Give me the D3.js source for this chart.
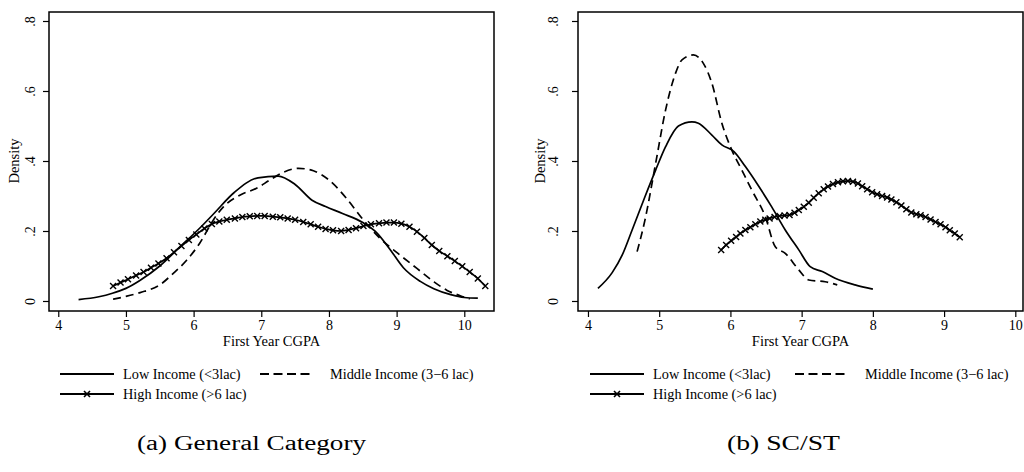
<!DOCTYPE html>
<html>
<head>
<meta charset="utf-8">
<script src="https://cdn.jsdelivr.net/npm/d3@7"></script>
<style>
  html, body { margin: 0; padding: 0; background: #fff; }
  svg { display: block; }
  text { font-family: "Liberation Serif", "Times New Roman", Times, serif; fill: #000; }
  .axis path, .axis line { stroke: #000; stroke-width: 1.2; }
  .axis text { font-size: 14px; }
</style>
</head>
<body>
<div id="chart"></div>
<script>
// ---- data ----
const xTicks = [4, 5, 6, 7, 8, 9, 10];
const yTicks = [0, 0.2, 0.4, 0.6, 0.8];
const yTickLabels = ["0", ".2", ".4", ".6", ".8"];
const seriesNames = ["Low Income (<3lac)", "Middle Income (3\u22126 lac)", "High Income (>6 lac)"];
const captions = ["(a) General Category", "(b) SC/ST"];

// (a) General Category
const genLowX = [4.3, 4.6, 4.8, 5.0, 5.2, 5.5, 5.8, 6.1, 6.3, 6.6, 6.95, 7.25, 7.5, 7.75, 7.95, 8.2, 8.5, 8.7, 8.9, 9.1, 9.35, 9.55, 9.8, 10.0, 10.2];
const genLowY = [.004, .012, .022, .036, .058, .10, .155, .21, .25, .31, .352, .357, .333, .288, .27, .25, .224, .196, .148, .095, .056, .035, .018, .01, .008];
const genMidX = [4.81, 5.0, 5.21, 5.5, 5.7, 5.9, 6.09, 6.29, 6.44, 6.69, 6.93, 7.13, 7.33, 7.55, 7.77, 8.01, 8.26, 8.51, 8.75, 9.02, 9.3, 9.55, 9.74, 9.94, 10.08];
const genMidY = [.005, .013, .024, .046, .079, .117, .165, .231, .269, .303, .322, .346, .368, .379, .372, .344, .293, .231, .180, .136, .093, .055, .031, .015, .006];
const genHighX = [4.81, 4.92, 5.03, 5.15, 5.26, 5.37, 5.48, 5.60, 5.71, 5.82, 5.93, 6.04, 6.16, 6.27, 6.38, 6.49, 6.61, 6.72, 6.83, 6.94,
  7.05, 7.17, 7.28, 7.39, 7.50, 7.62, 7.73, 7.84, 7.95, 8.06, 8.18, 8.29, 8.40, 8.51, 8.62, 8.74, 8.85, 8.96, 9.07, 9.19,
  9.30, 9.41, 9.52, 9.63, 9.75, 9.86, 9.97, 10.08, 10.20, 10.31];
const genHighY = [.043, .053, .062, .073, .083, .095, .107, .122, .139, .157, .174, .190, .207, .220, .227, .232, .236, .240, .242, .243,
  .243, .241, .239, .236, .232, .226, .219, .212, .206, .202, .200, .203, .208, .214, .219, .222, .224, .224, .221, .212,
  .198, .180, .160, .143, .128, .114, .099, .083, .064, .043];

// (b) SC/ST
const scLowX = [4.14, 4.34, 4.48, 4.62, 4.80, 4.95, 5.09, 5.27, 5.46, 5.55, 5.74, 5.88, 6.05, 6.21, 6.40, 6.58, 6.77, 6.96, 7.12, 7.29, 7.47, 7.75, 8.0];
const scLowY = [.036, .081, .131, .203, .298, .374, .441, .500, .512, .508, .474, .446, .427, .384, .327, .269, .203, .146, .098, .084, .065, .046, .034];
const scMidX = [4.69, 4.80, 4.95, 5.09, 5.23, 5.32, 5.48, 5.62, 5.74, 5.88, 6.02, 6.16, 6.30, 6.49, 6.63, 6.77, 6.96, 7.10, 7.33, 7.50];
const scMidY = [.141, .231, .393, .546, .651, .689, .703, .679, .622, .508, .431, .374, .317, .241, .155, .136, .089, .060, .055, .046];
const scHighX = [5.87, 5.94, 6.01, 6.08, 6.14, 6.21, 6.28, 6.35, 6.42, 6.49, 6.55, 6.62, 6.69, 6.76, 6.83, 6.90, 6.96, 7.03, 7.10, 7.17,
  7.24, 7.31, 7.37, 7.44, 7.51, 7.58, 7.65, 7.72, 7.79, 7.85, 7.92, 7.99, 8.06, 8.13, 8.20, 8.26, 8.33, 8.40, 8.47, 8.54,
  8.61, 8.67, 8.74, 8.81, 8.88, 8.95, 9.02, 9.08, 9.15, 9.22];
const scHighY = [.146, .160, .172, .183, .193, .203, .211, .219, .227, .232, .236, .240, .243, .244, .246, .252, .260, .269, .281, .295,
  .308, .319, .327, .334, .339, .342, .343, .341, .336, .328, .319, .311, .305, .300, .296, .290, .282, .273, .262, .253,
  .248, .245, .240, .233, .226, .219, .211, .202, .193, .182];

const zip = (xs, ys) => xs.map((x, i) => ({ x, y: ys[i] }));

const W = 1024, H = 472;
const svg = d3.select("#chart").append("svg").attr("width", W).attr("height", H);

const panels = [
  { l: 49, r: 494, xDom: [3.863, 10.439], tickLab: 14, dens: 30, leg: [60, 260], caption: captions[0], capX: 137, capLen: 229,
    low: zip(genLowX, genLowY), mid: zip(genMidX, genMidY), high: zip(genHighX, genHighY) },
  { l: 578, r: 1023, xDom: [3.860, 10.108], tickLab: 20, dens: 33, leg: [590, 795], caption: captions[1], capX: 727, capLen: 113,
    low: zip(scLowX, scLowY), mid: zip(scMidX, scMidY), high: zip(scHighX, scHighY) }
];

const yTop = 12, yBot = 311;
const y = d3.scaleLinear().domain([-0.0286, 0.8257]).range([yBot, yTop]);
const xMark = "M-3,-3L3,3M-3,3L3,-3";

panels.forEach(p => {
  const x = d3.scaleLinear().domain(p.xDom).range([p.l, p.r]);
  const g = svg.append("g");

  // axes
  const ya = g.append("g").attr("class", "axis").attr("transform", `translate(${p.l},0)`)
    .call(d3.axisLeft(y).tickValues(yTicks).tickSize(6).tickFormat((d, i) => yTickLabels[i]));
  ya.select(".domain").remove();
  ya.selectAll("text").attr("x", null).attr("dy", null).attr("text-anchor", "middle")
    .attr("transform", `translate(${-p.tickLab},0) rotate(-90)`);

  const xa = g.append("g").attr("class", "axis").attr("transform", `translate(0,${yBot})`)
    .call(d3.axisBottom(x).tickValues(xTicks).tickSize(6).tickFormat(d3.format("d")));
  xa.select(".domain").remove();

  g.append("rect").attr("x", p.l).attr("y", yTop).attr("width", p.r - p.l).attr("height", yBot - yTop)
    .attr("fill", "none").attr("stroke", "#000").attr("stroke-width", 1.5);

  g.append("text").attr("transform", `translate(${p.l - p.dens},${y(0.4)}) rotate(-90)`)
    .attr("text-anchor", "middle").style("font-size", "14.5px").text("Density");
  g.append("text").attr("x", (p.l + p.r) / 2).attr("y", 346).attr("text-anchor", "middle")
    .style("font-size", "14.5px").text("First Year CGPA");

  // curves
  const line = d3.line().x(d => x(d.x)).y(d => y(d.y)).curve(d3.curveMonotoneX);
  g.append("path").datum(p.low).attr("d", line).attr("fill", "none").attr("stroke", "#000").attr("stroke-width", 1.7);
  g.append("path").datum(p.mid).attr("d", line).attr("fill", "none").attr("stroke", "#000").attr("stroke-width", 1.7)
    .attr("stroke-dasharray", "8,5");
  g.append("path").datum(p.high).attr("d", line).attr("fill", "none").attr("stroke", "#000").attr("stroke-width", 1.7);
  g.append("g").selectAll("path").data(p.high).join("path")
    .attr("transform", d => `translate(${x(d.x)},${y(d.y)})`)
    .attr("d", xMark).attr("stroke", "#000").attr("stroke-width", 1.4);

  // legend
  const L = g.append("g").style("font-size", "14.3px");
  const [lx, mx] = p.leg;
  L.append("line").attr("x1", lx).attr("x2", lx + 54).attr("y1", 374).attr("y2", 374).attr("stroke", "#000").attr("stroke-width", 2);
  L.append("text").attr("x", lx + 63).attr("y", 379).text(seriesNames[0]);
  L.append("line").attr("x1", mx).attr("x2", mx + 52).attr("y1", 374).attr("y2", 374).attr("stroke", "#000").attr("stroke-width", 2)
    .attr("stroke-dasharray", "9,4.5");
  L.append("text").attr("x", mx + 70).attr("y", 379).text(seriesNames[1]);
  L.append("line").attr("x1", lx).attr("x2", lx + 54).attr("y1", 394).attr("y2", 394).attr("stroke", "#000").attr("stroke-width", 2);
  L.append("path").attr("transform", `translate(${lx + 27},394)`).attr("d", xMark).attr("stroke", "#000").attr("stroke-width", 1.6);
  L.append("text").attr("x", lx + 63).attr("y", 399).text(seriesNames[2]);

  // caption
  svg.append("text").attr("x", p.capX).attr("y", 450).style("font-size", "20px")
    .attr("textLength", p.capLen).attr("lengthAdjust", "spacingAndGlyphs").text(p.caption);
});
</script>
</body>
</html>
